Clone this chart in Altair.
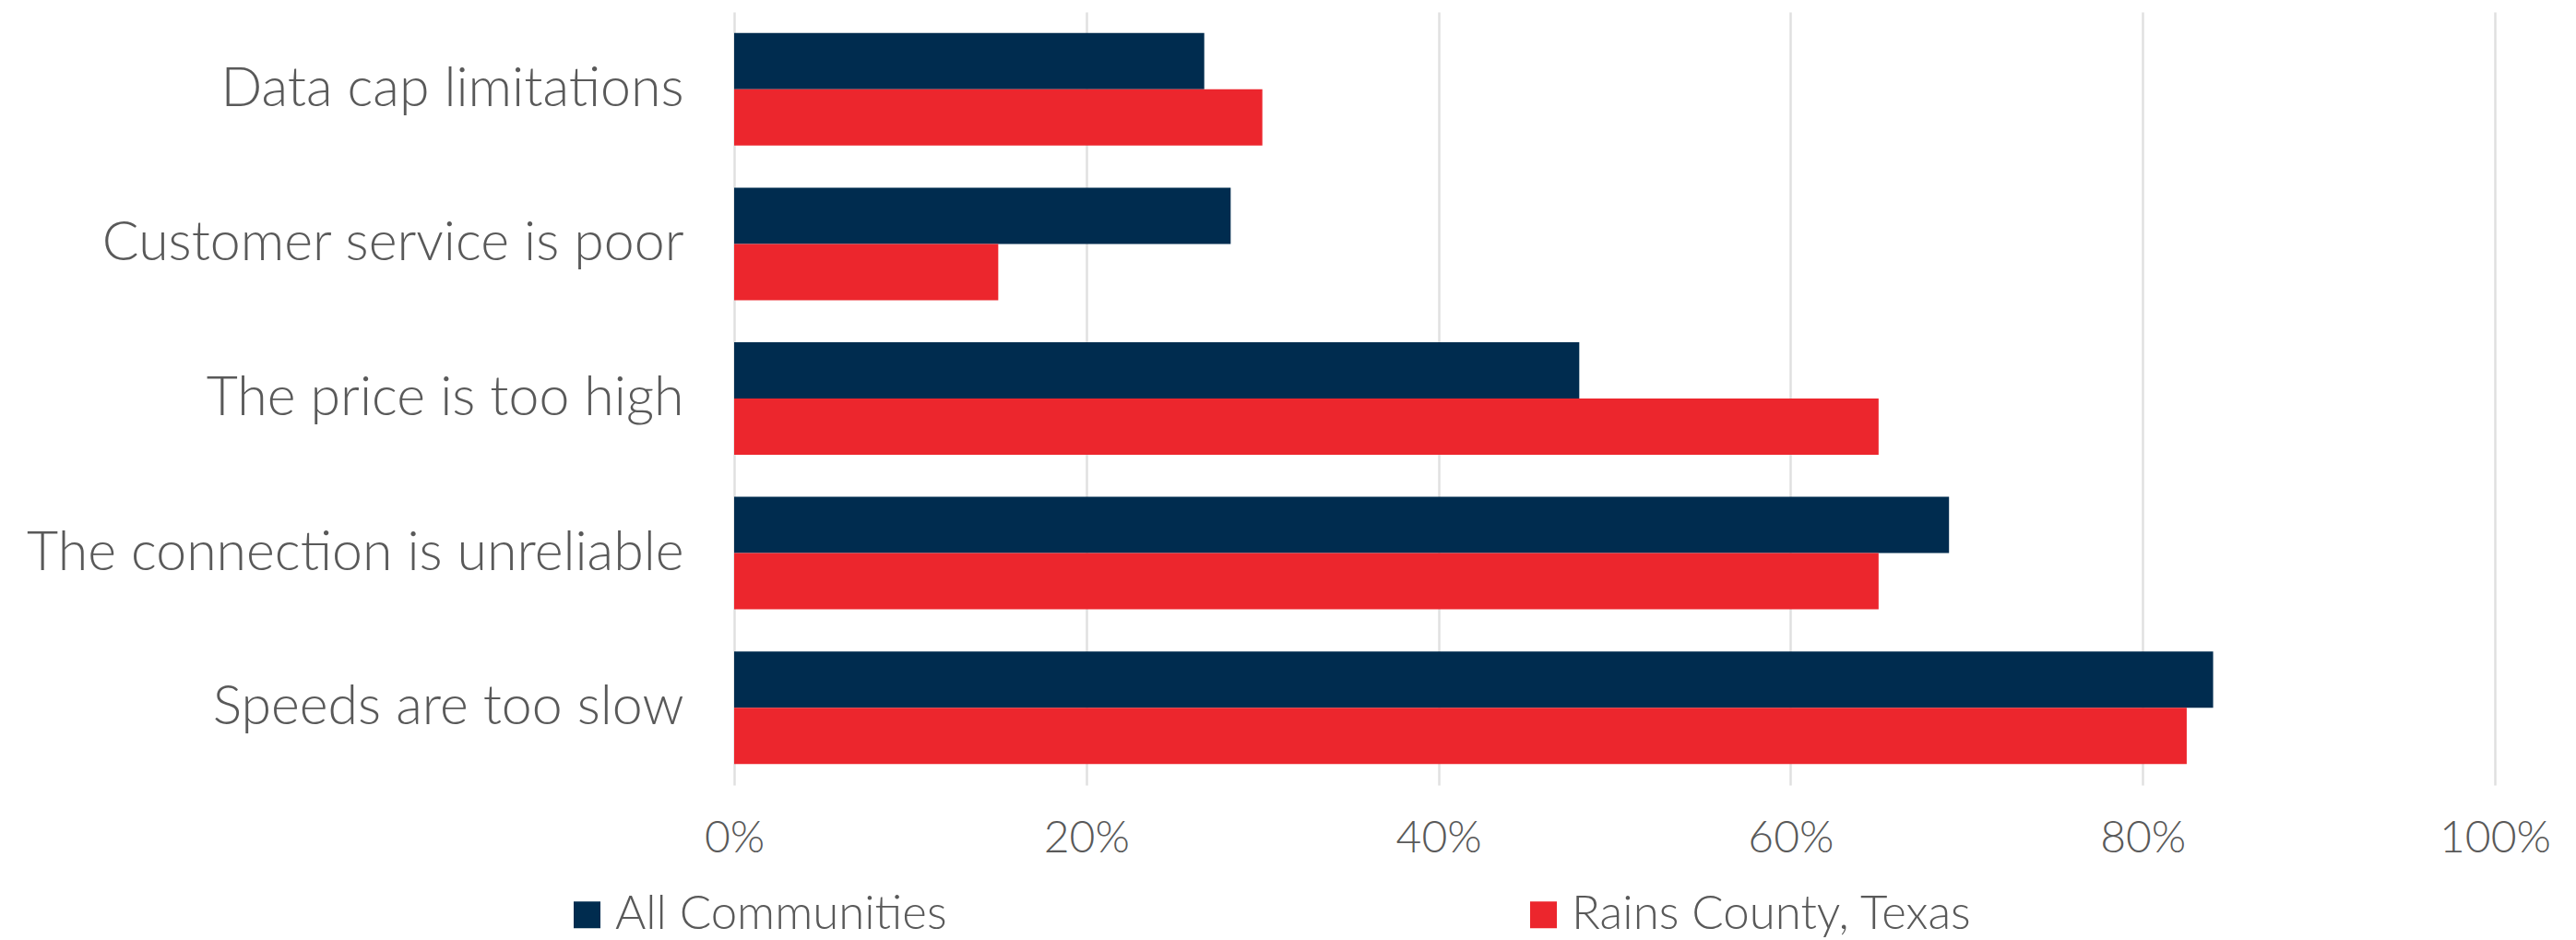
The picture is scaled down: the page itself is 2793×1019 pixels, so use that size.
import altair as alt
import pandas as pd

categories = ["Data cap limitations", "Customer service is poor", "The price is too high",
              "The connection is unreliable", "Speeds are too slow"]
series_names = ["All Communities", "Rains County, Texas"]
all_communities = [0.267, 0.282, 0.480, 0.690, 0.840]
rains_county = [0.300, 0.150, 0.650, 0.650, 0.825]
colors = ["#002C4F", "#EC262D"]
x_ticks = [0, 0.2, 0.4, 0.6, 0.8, 1.0]

rows = []
for c, a, r in zip(categories, all_communities, rains_county):
    rows.append({"category": c, "series": series_names[0], "value": a})
    rows.append({"category": c, "series": series_names[1], "value": r})
df = pd.DataFrame(rows)

FONT = "Lato"
TXT = "#595959"

chart = alt.Chart(df).mark_bar().encode(
    y=alt.Y("category:N", sort=categories, title=None,
            scale=alt.Scale(paddingInner=0.272, paddingOuter=0.136),
            axis=alt.Axis(labelFontSize=59, labelColor=TXT, labelFont=FONT, labelFontWeight=300,
                          labelPadding=55, ticks=False, domain=False, labelLimit=1000)),
    yOffset=alt.YOffset("series:N", sort=series_names),
    x=alt.X("value:Q", title=None,
            scale=alt.Scale(domain=[0, 1], nice=False),
            axis=alt.Axis(values=x_ticks, format=".0%", labelFontSize=48, labelColor=TXT,
                          labelFont=FONT, labelFontWeight=300, labelPadding=34,
                          labelFlush=False,
                          ticks=False, domain=False, grid=True, gridColor="#e0e0e0",
                          gridWidth=2.5)),
    color=alt.Color("series:N", sort=series_names,
                    scale=alt.Scale(domain=series_names, range=colors),
                    legend=alt.Legend(title=None, orient="none", legendX=-185, legendY=953,
                                      direction="horizontal", columnPadding=621,
                                      symbolType="square", symbolSize=841,
                                      symbolStrokeWidth=0, labelFontSize=51, labelColor=TXT,
                                      labelFont=FONT, labelFontWeight=300, labelOffset=5,
                                      labelLimit=1000)),
).properties(
    width=1909, height=838,
    autosize=alt.AutoSizeParams(type="none"),
    padding={"left": 788, "top": 5, "right": 80, "bottom": 166},
).configure_view(stroke=None)

chart.save("out.html", embed_options={"renderer": "svg", "actions": False})
